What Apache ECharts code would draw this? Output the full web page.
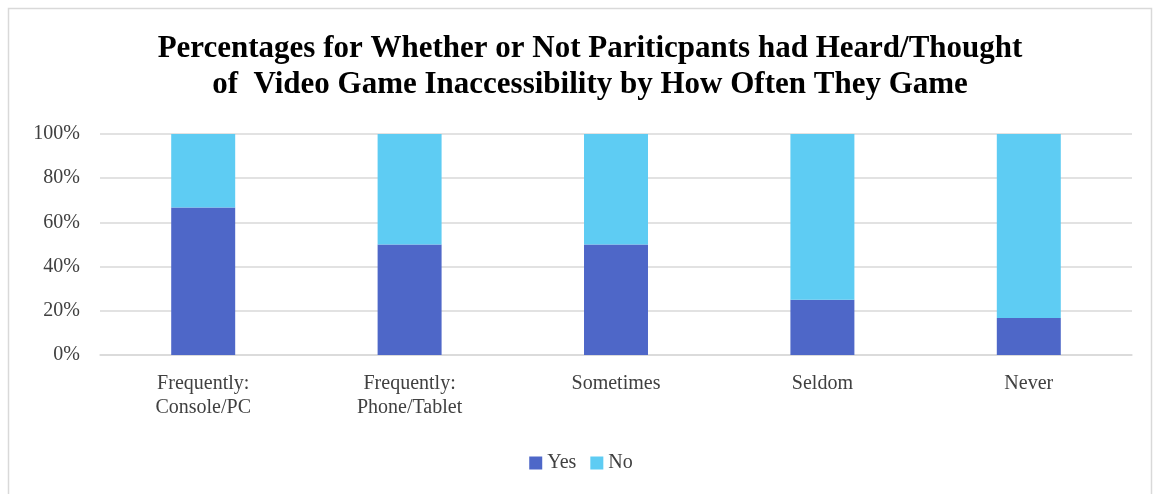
<!DOCTYPE html>
<html>
<head>
<meta charset="utf-8">
<script src="https://cdn.jsdelivr.net/npm/echarts@6/dist/echarts.min.js"></script>
<style>
  html, body { margin: 0; padding: 0; background: #fff; }
  #chart { width: 1162px; height: 494px; }
</style>
</head>
<body>
<div id="chart"></div>
<script>
// Gaming frequency groups and share of participants answering Yes / No
const categories = ['Frequently:\nConsole/PC', 'Frequently:\nPhone/Tablet', 'Sometimes', 'Seldom', 'Never'];
const yesValues = [66.7, 50, 50, 25, 16.7];
const noValues = [33.3, 50, 50, 75, 83.3];
const yTicks = [0, 20, 40, 60, 80, 100];

const serif = '"Liberation Serif", "DejaVu Serif", serif';
const chart = echarts.init(document.getElementById('chart'));

chart.setOption({
  animation: false,
  graphic: [{
    type: 'rect',
    shape: { x: 8.5, y: 8.5, width: 1143, height: 500 },
    style: { fill: 'none', stroke: '#d9d9d9', lineWidth: 1.5 },
    silent: true
  }],
  title: {
    text: 'Percentages for Whether or Not Pariticpants had Heard/Thought\nof  Video Game Inaccessibility by How Often They Game',
    left: 585,
    textAlign: 'center',
    top: 26,
    textStyle: {
      fontFamily: serif,
      fontWeight: 'bold',
      fontSize: 31,
      lineHeight: 36,
      color: '#000'
    }
  },
  legend: {
    data: ['Yes', 'No'],
    bottom: 16,
    left: 'center',
    itemWidth: 13,
    itemHeight: 13,
    itemGap: 14,
    icon: 'rect',
    textStyle: { fontFamily: serif, fontSize: 20, color: '#404040' }
  },
  grid: { left: 100, right: 30, top: 134, bottom: 139 },
  xAxis: {
    type: 'category',
    data: categories,
    axisLine: { lineStyle: { color: '#d9d9d9', width: 1.5 } },
    axisTick: { show: false },
    axisLabel: {
      fontFamily: serif, fontSize: 20, color: '#404040',
      lineHeight: 24, margin: 17
    }
  },
  yAxis: {
    type: 'value',
    min: 0,
    max: 100,
    interval: 20,
    axisLine: { show: false },
    axisTick: { show: false },
    splitLine: { lineStyle: { color: '#d9d9d9', width: 1.5 } },
    axisLabel: {
      fontFamily: serif, fontSize: 20, color: '#404040', margin: 20,
      customValues: yTicks,
      formatter: v => v + '%'
    }
  },
  series: [
    {
      name: 'Yes', type: 'bar', stack: 'total', data: yesValues,
      barWidth: '31%',
      itemStyle: { color: '#4e67c8' }
    },
    {
      name: 'No', type: 'bar', stack: 'total', data: noValues,
      barWidth: '31%',
      itemStyle: { color: '#5eccf3' }
    }
  ]
});
</script>
</body>
</html>
